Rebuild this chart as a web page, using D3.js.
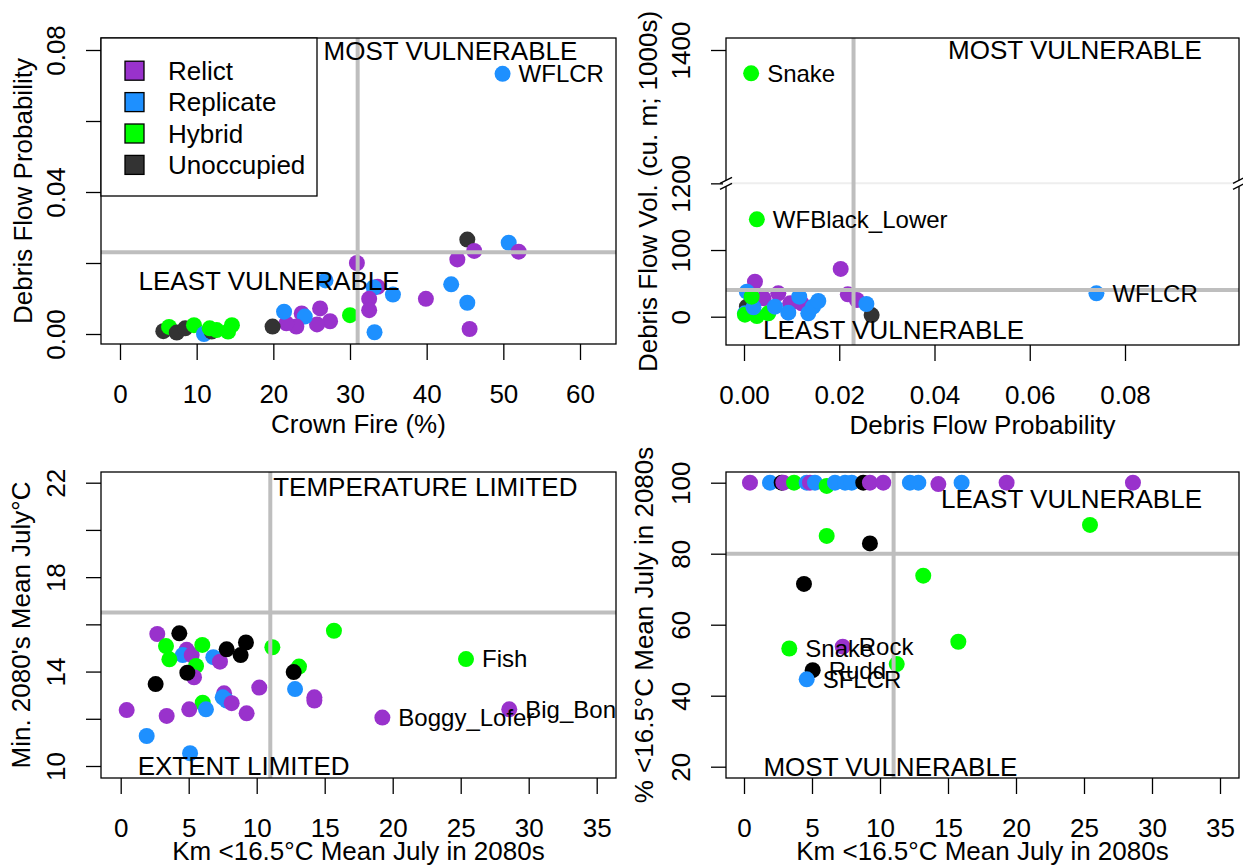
<!DOCTYPE html>
<html>
<head>
<meta charset="utf-8">
<script src="https://cdn.jsdelivr.net/npm/d3@7"></script>
<style>
body { margin: 0; background: #fff; }
svg text { font-family: "Liberation Sans", Arial, sans-serif; fill: #000; }
</style>
</head>
<body>
<svg id="chart" width="1243" height="868"></svg>
<script>
// groups: R = Relict, P = Replicate, H = Hybrid, U = Unoccupied
const groupKeys = ["R", "P", "H", "U"];
const groupNames = ["Relict", "Replicate", "Hybrid", "Unoccupied"];

// panel 1: crown fire vs debris flow probability
const p1X = [49.9, 45.3, 46.2, 50.7, 52.0, 44.0, 43.2, 45.3, 45.6, 39.9, 35.6, 30.9, 33.6, 33.1, 32.5, 32.5, 33.2, 30.0, 26.8, 26.1,
             27.4, 25.7, 23.7, 24.1, 23.0, 21.7, 21.4, 19.9, 5.65, 6.4, 7.4, 8.5, 9.65, 10.96, 11.96, 11.7, 12.6, 14.6, 14.1];
const p1Y = [0.0733, 0.0266, 0.0234, 0.0257, 0.0232, 0.021, 0.014, 0.0088, 0.0014, 0.0099, 0.0111, 0.020, 0.0133, 0.0131, 0.0099, 0.0067, 0.0005, 0.0053, 0.0151, 0.0072,
             0.0036, 0.0027, 0.0058, 0.0049, 0.0021, 0.003, 0.0063, 0.0021, 0.0008, 0.002, 0.0004, 0.0016, 0.0025, 0.0, 0.0007, 0.0016, 0.0011, 0.0025, 0.0007];
const p1G = "P U R P R R P P R R P R R P R R P H P R R R R P R R P U U H U U H P U H H H H".split(" ");
const p1Names = ["WFLCR"];

// panel 2: debris flow probability vs debris flow volume
const p2X = [0.0015, 0.0027, 0.074, 0.0203, 0.0218, 0.0237, 0.0023, 0.0072, 0.0041, 0.0097, 0.0121, 0.0013, 0.0268, 0.0006, 0.0257,
             0.0006, 0.0002, 0.0002, 0.0027, 0.0051, 0.0065, 0.0093, 0.0116, 0.0135, 0.0145, 0.0156, 0.002, 0.0016];
const p2Y = [1365, 146, 35, 71.6, 33.6, 25, 52.5, 35, 27.5, 20, 20, 10, 2.5, 37.5, 19,
             15, 5, 3, 1, 5, 15, 6, 30, 5, 15, 23.5, 14, 30];
const p2G = "H H P R R R R R R R R R U P P U P H H H P P P P P P P H".split(" ");
const p2Names = ["Snake", "WFBlack_Lower", "WFLCR"];

// panel 3: km below 16.5C vs min mean July temperature
const p3X = [25.39, 19.24, 28.57, 2.69, 4.31, 3.33, 4.85, 4.56, 5.22, 3.58, 6.0, 5.54, 5.39, 4.90, 2.57, 6.81, 7.30, 7.79, 9.21, 8.82,
             11.15, 15.68, 13.11, 12.72, 12.82, 10.19, 14.24, 14.24, 7.6, 7.5, 7.79, 8.16, 6.03, 6.27, 5.04, 0.44, 3.38, 9.26, 1.91, 5.1];
const p3Y = [14.53, 12.05, 12.40, 15.59, 15.62, 15.08, 14.92, 14.70, 14.70, 14.52, 15.13, 14.24, 13.76, 13.95, 13.47, 14.61, 14.42, 14.94, 15.23, 14.70,
             15.03, 15.73, 14.21, 13.98, 13.26, 13.32, 12.91, 12.77, 13.08, 12.91, 12.77, 12.66, 12.68, 12.40, 12.40, 12.37, 12.12, 12.23, 11.27, 10.54];
const p3G = "H R R R U H R P R H H H R U U P R U U U H H H U P R R R R P P R H P R R R R P P".split(" ");
const p3Names = ["Fish", "Boggy_Lofer", "Big_Bon"];

// panel 4: km below 16.5C vs % below 16.5C
const p4X = [3.33, 7.26, 5.05, 4.61, 25.44, 6.08, 9.26, 4.41, 13.18, 15.76, 11.23,
             0.44, 1.91, 2.77, 2.89, 3.68, 4.61, 4.85, 5.22, 6.08, 6.69, 7.43, 7.92, 8.77, 9.26, 10.24, 12.2, 12.82, 14.29, 16.0, 19.31, 28.6];
const p4Y = [53.3, 53.8, 47.2, 44.6, 88.1, 85.0, 82.9, 71.5, 73.8, 55.2, 48.9,
             100, 100, 100, 100, 100, 100, 100, 100, 99.1, 100, 100, 100, 100, 100, 100, 100, 100, 99.6, 100, 100, 100];
const p4G = "H R U P H H U U H H H R P U R H P R P H P P P U R R P P R P R R".split(" ");
const p4Names = ["Snake", "Rock", "Rudd", "SFLCR"];

// axis ticks and labels
const crownTicks = [0, 10, 20, 30, 40, 50, 60];
const probTicks = [0, 0.02, 0.04, 0.06, 0.08];
const probLabelsY = ["0.00", "", "0.04", "", "0.08"];
const probLabelsX = ["0.00", "0.02", "0.04", "0.06", "0.08"];
const volTicks = [0, 100, 1200, 1400];
const volLabels = ["0", "100", "1200", "1400"];
const kmTicks = [0, 5, 10, 15, 20, 25, 30, 35];
const tempTicks = [10, 12, 14, 16, 18, 20, 22];
const tempLabels = ["10", "", "14", "", "18", "", "22"];
const pctTicks = [20, 40, 60, 80, 100];

// threshold lines [x, y]
const thr1 = [31, 0.023];
const thr2 = [0.023, 40];
const thr3 = [11, 16.5];
const thr4 = [11, 80];

// quadrant text
const notes1 = ["MOST VULNERABLE", "LEAST VULNERABLE"], notes1X = [43.1, 19.45], notes1Y = [0.0797, 0.015];
const notes2 = ["MOST VULNERABLE", "LEAST VULNERABLE"], notes2X = [0.0695, 0.0314], notes2Y = [1400, -20];
const notes3 = ["TEMPERATURE LIMITED", "EXTENT LIMITED"], notes3X = [22.4, 9.04], notes3Y = [21.83, 10];
const notes4 = ["LEAST VULNERABLE", "MOST VULNERABLE"], notes4X = [24.08, 10.76], notes4Y = [95.3, 20];

const svg = d3.select("#chart");
const colors = { R: "#9932CC", P: "#1E90FF", H: "#00FF00", U: "#000000" };
const fs = 26;

function drawPanel(cfg) {
  const g = svg.append("g");
  const [bx0, by0, bx1, by1] = cfg.box;
  const x = d3.scaleLinear().domain(cfg.xDomain).range(cfg.xRange);
  const yLin = d3.scaleLinear().domain(cfg.yDomain).range(cfg.yRange);
  const tf = cfg.yTransform || (d => d);
  const y = d => yLin(tf(d));

  const pts = cfg.xs.map((v, i) => ({ x: v, y: cfg.ys[i], g: cfg.gs[i] }));
  g.selectAll("circle.pt").data(pts).join("circle")
    .attr("class", "pt")
    .attr("cx", d => x(d.x))
    .attr("cy", d => y(d.y))
    .attr("r", 8)
    .attr("fill", d => d.g == "U" && cfg.dark ? "#333333" : colors[d.g]);

  // axis break (panel 2)
  if (cfg.breakAt != null) {
    const yb = yLin(cfg.breakAt);
    g.append("line").attr("x1", bx0).attr("x2", bx1).attr("y1", yb).attr("y2", yb)
      .attr("stroke", "#eeeeee").attr("stroke-width", 2);
  }

  // threshold lines
  g.append("line").attr("x1", x(cfg.thr[0])).attr("x2", x(cfg.thr[0])).attr("y1", by0).attr("y2", by1)
    .attr("stroke", "#bebebe").attr("stroke-width", 4);
  g.append("line").attr("x1", bx0).attr("x2", bx1).attr("y1", y(cfg.thr[1])).attr("y2", y(cfg.thr[1]))
    .attr("stroke", "#bebebe").attr("stroke-width", 4);

  g.append("rect").attr("x", bx0).attr("y", by0).attr("width", bx1 - bx0).attr("height", by1 - by0)
    .attr("fill", "none").attr("stroke", "#000").attr("stroke-width", 1.3);

  // bottom axis
  const xa = g.append("g").attr("transform", `translate(0,${by1})`)
    .call(d3.axisBottom(x).tickValues(cfg.xTicks).tickSize(16).tickFormat((d, i) => cfg.xLabels ? cfg.xLabels[i] : d));
  xa.select(".domain").remove();
  xa.selectAll("line").attr("stroke", "#000").attr("stroke-width", 1.3);
  xa.selectAll("text").attr("y", 50).attr("dy", "0.35em").attr("font-size", fs)
    .attr("font-family", "Liberation Sans, Arial, sans-serif").attr("fill", "#000");

  // left axis
  const ya = g.append("g").attr("transform", `translate(${bx0},0)`)
    .call(d3.axisLeft(yLin).tickValues(cfg.yTicks.map(tf)).tickSize(15).tickFormat((d, i) => cfg.yLabels ? cfg.yLabels[i] : d));
  ya.select(".domain").remove();
  ya.selectAll("line").attr("stroke", "#000").attr("stroke-width", 1.3);
  ya.selectAll("text").attr("x", 0).attr("dy", null)
    .attr("transform", "translate(-45,0) rotate(-90)")
    .attr("text-anchor", "middle").attr("dominant-baseline", "central")
    .attr("font-size", fs).attr("font-family", "Liberation Sans, Arial, sans-serif").attr("fill", "#000");

  if (cfg.breakAt != null) {
    const yb = yLin(cfg.breakAt);
    [bx0, bx1].forEach(bx => {
      g.append("rect").attr("x", bx - 3).attr("y", yb - 3).attr("width", 6).attr("height", 6).attr("fill", "#fff");
      [-3, 3].forEach(o => {
        g.append("line").attr("x1", bx - 6).attr("x2", bx + 6).attr("y1", yb + o + 3).attr("y2", yb + o - 3)
          .attr("stroke", "#000").attr("stroke-width", 1.3);
      });
    });
  }

  // axis titles
  g.append("text").attr("x", (bx0 + bx1) / 2).attr("y", by1 + cfg.xTitleOff).attr("dy", "0.35em")
    .attr("text-anchor", "middle").attr("font-size", fs).text(cfg.xTitle);
  g.append("text").attr("transform", `translate(${bx0 - cfg.yTitleOff},${(by0 + by1) / 2}) rotate(-90)`)
    .attr("dy", "0.35em").attr("text-anchor", "middle").attr("font-size", fs).text(cfg.yTitle);

  // quadrant notes
  cfg.notes.forEach((t, i) => {
    g.append("text").attr("x", x(cfg.notesX[i])).attr("y", y(cfg.notesY[i])).attr("dy", "0.35em")
      .attr("text-anchor", "middle").attr("font-size", fs).text(t);
  });

  // point labels (first points of each list)
  cfg.names.forEach((n, i) => {
    g.append("text").attr("x", x(cfg.xs[i]) + 16).attr("y", y(cfg.ys[i])).attr("dy", "0.35em")
      .attr("font-size", 24).text(n);
  });
}

drawPanel({
  box: [101, 38, 616, 344], xDomain: [0, 60], xRange: [120, 580], yDomain: [0, 0.08], yRange: [334, 50],
  xTicks: crownTicks, yTicks: probTicks, yLabels: probLabelsY,
  xs: p1X, ys: p1Y, gs: p1G, names: p1Names, dark: true, thr: thr1,
  notes: notes1, notesX: notes1X, notesY: notes1Y,
  xTitle: "Crown Fire (%)", yTitle: "Debris Flow Probability", xTitleOff: 80, yTitleOff: 78
});

drawPanel({
  box: [726, 38, 1239, 345], xDomain: [0, 0.08], xRange: [744, 1125], yDomain: [0, 400], yRange: [316.7, 50],
  yTransform: v => v > 700 ? v - 1000 : v, breakAt: 200,
  xTicks: probTicks, xLabels: probLabelsX, yTicks: volTicks, yLabels: volLabels,
  xs: p2X, ys: p2Y, gs: p2G, names: p2Names, dark: true, thr: thr2,
  notes: notes2, notesX: notes2X, notesY: notes2Y,
  xTitle: "Debris Flow Probability", yTitle: "Debris Flow Vol. (cu. m; 1000s)", xTitleOff: 80, yTitleOff: 78
});

drawPanel({
  box: [101, 472, 616, 778], xDomain: [0, 35], xRange: [120.7, 596.7], yDomain: [10, 22], yRange: [766, 482.7],
  xTicks: kmTicks, yTicks: tempTicks, yLabels: tempLabels,
  xs: p3X, ys: p3Y, gs: p3G, names: p3Names, dark: false, thr: thr3,
  notes: notes3, notesX: notes3X, notesY: notes3Y,
  xTitle: "Km <16.5°C Mean July in 2080s", yTitle: "Min. 2080's Mean July°C", xTitleOff: 73, yTitleOff: 80
});

drawPanel({
  box: [726, 472, 1239, 778], xDomain: [0, 35], xRange: [744, 1220], yDomain: [20, 100], yRange: [766.7, 482.7],
  xTicks: kmTicks, yTicks: pctTicks,
  xs: p4X, ys: p4Y, gs: p4G, names: p4Names, dark: false, thr: thr4,
  notes: notes4, notesX: notes4X, notesY: notes4Y,
  xTitle: "Km <16.5°C Mean July in 2080s", yTitle: "% <16.5°C Mean July in 2080s", xTitleOff: 73, yTitleOff: 82
});

// legend in panel 1
const leg = svg.append("g");
leg.append("rect").attr("x", 101).attr("y", 38).attr("width", 216).attr("height", 158)
  .attr("fill", "#fff").attr("stroke", "#000").attr("stroke-width", 1.3);
groupNames.forEach((n, i) => {
  const yy = 70.7 + i * 31.4;
  const k = groupKeys[i];
  leg.append("rect").attr("x", 125).attr("y", yy - 9.5).attr("width", 19).attr("height", 19)
    .attr("fill", k == "U" ? "#333333" : colors[k]).attr("stroke", "#000").attr("stroke-width", 1.3);
  leg.append("text").attr("x", 168).attr("y", yy).attr("dy", "0.35em").attr("font-size", fs).text(n);
});
</script>
</body>
</html>
